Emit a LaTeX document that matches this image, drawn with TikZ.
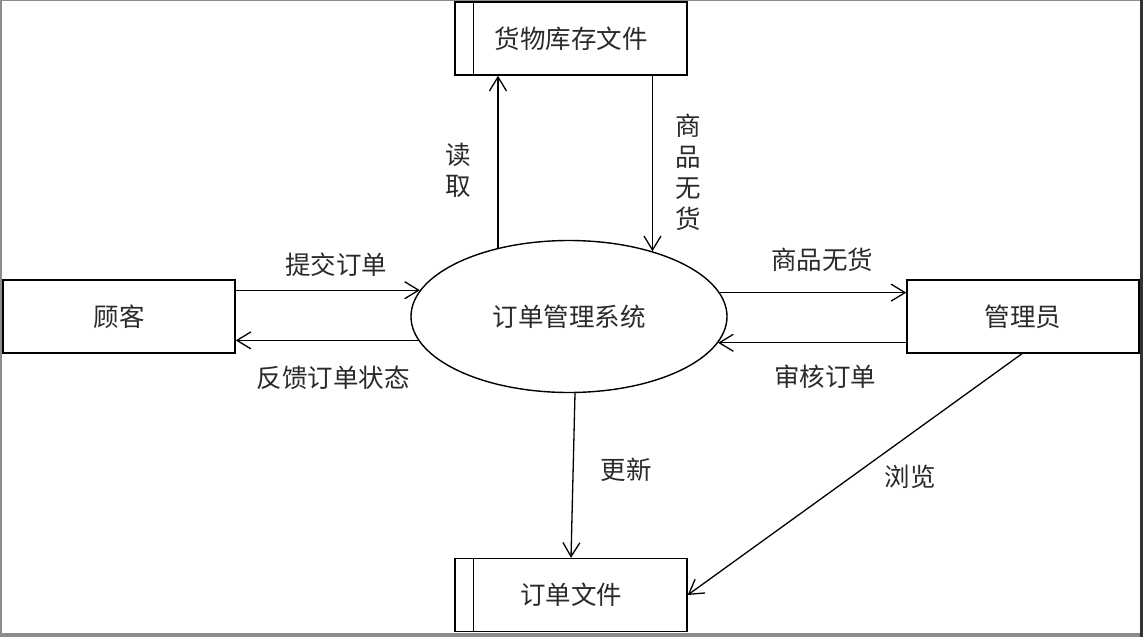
\documentclass[tikz,border=0pt]{standalone}
\usepackage{fontspec}
\newfontfamily\cjk{Noto Sans CJK SC}
\usetikzlibrary{shapes.geometric,arrows.meta}
\definecolor{txt}{HTML}{2a2a2a}
\begin{document}
\begin{tikzpicture}[x=1pt,y=-1pt,
  every node/.style={font=\cjk\fontsize{25.5}{30}\selectfont, text=txt},
  ent/.style={draw, line width=1.4pt, rectangle, minimum width=232pt, minimum height=73pt, inner sep=0pt},
  store/.style={ent},
  proc/.style={draw, line width=1.4pt, ellipse, minimum width=316pt, minimum height=152pt, inner sep=0pt},
  flow/.style={line width=1.3pt, -{Straight Barb[length=14pt,width=17pt,line width=1.3pt]}},
  lbl/.style={inner sep=1pt, align=center},
  vlbl/.style={inner sep=1pt, align=center, font=\cjk\fontsize{25.5}{31}\selectfont}]
% frame
\fill[gray!90] (0,0) rectangle (1143,637);
\fill[white] (2,1) rectangle (1140,633);
\fill[black!80] (1140,0) rectangle (1143,637);
\useasboundingbox (0,0) rectangle (1143,637);
% nodes
\node[ent] (c) at (119,316.5) {顾客};
\node[ent] (m) at (1023,316.5) {管理员};
\node[store] (ts) at (571,38.5) {货物库存文件};
\node[store] (os) at (571,595) {订单文件};
\draw[line width=1.4pt] ([xshift=19pt]ts.north west) -- ([xshift=19pt]ts.south west);
\draw[line width=1.4pt] ([xshift=19pt]os.north west) -- ([xshift=19pt]os.south west);
\node[proc] (sys) at (569,316.5) {订单管理系统};
% connectors
\draw[flow] (c.east |- sys.170.85) -- (sys.170.85);
\draw[flow] (sys.189.15) -- (c.east |- sys.189.15);
\draw[flow] (sys.9.15) -- (m.west |- sys.9.15);
\draw[flow] (m.west |- sys.350.85) -- (sys.350.85);
\draw[flow] (sys.136.2) -- (sys.136.2 |- ts.south);
\draw[flow] (ts.south -| sys.38.3) -- (sys.38.3);
\draw[flow] ([xshift=6pt]sys.south) -- (os.north);
\draw[flow] ([xshift=-1pt]m.south) -- (os.east);
% labels
\node[lbl] (l1) at (336,265) {提交订单};
\node[lbl] (l2) at (333,378) {反馈订单状态};
\node[lbl] (l3) at (822,260) {商品无货};
\node[lbl] (l4) at (825,377) {审核订单};
\node[vlbl] (l5) at (458,170) {读\\取};
\node[vlbl] (l6) at (688,172) {商\\品\\无\\货};
\node[lbl] (l7) at (626,470) {更新};
\node[lbl] (l8) at (910,477) {浏览};
\end{tikzpicture}
\end{document}
